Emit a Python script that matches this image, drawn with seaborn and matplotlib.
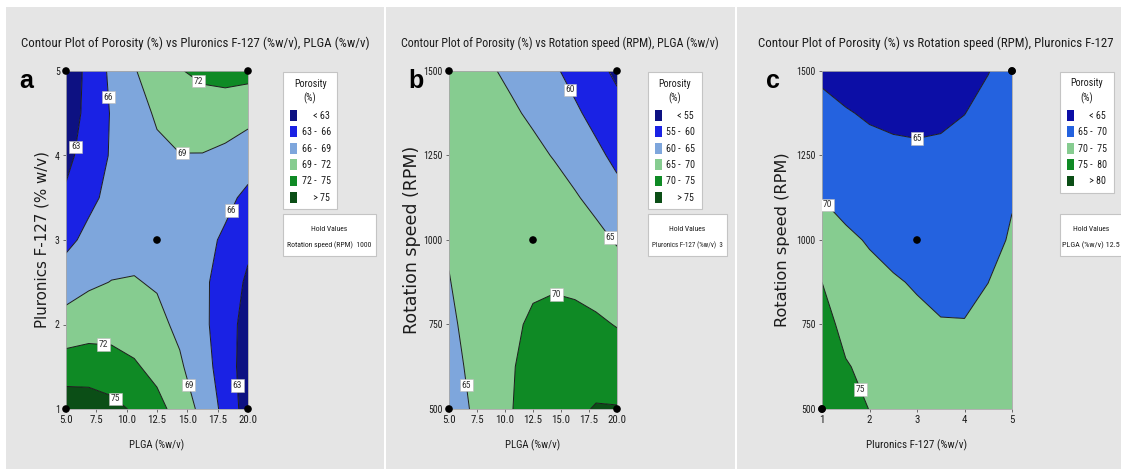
import matplotlib
matplotlib.use("Agg")
import matplotlib.pyplot as plt
from matplotlib import font_manager as fm
from matplotlib.patches import Patch, Rectangle
import numpy as np
import seaborn as sns

# ---------------- data ----------------
# grid positions of the fitted response surfaces
plga_grid = [5.0, 6.875, 8.75, 10.625, 12.5, 14.375, 16.25, 18.125, 20.0]
pluronic_grid = [1.0, 1.5, 2.0, 2.5, 3.0, 3.5, 4.0, 4.5, 5.0]
rpm_grid = [500, 625, 750, 875, 1000, 1125, 1250, 1375, 1500]

# porosity (%) vs PLGA (columns) and Pluronics F-127 (rows); speed held at 1000 RPM
porosity_plga_pluronic = [
    [76.90, 76.61, 75.85, 74.64, 72.95, 70.80, 68.18, 65.10, 61.55],
    [73.34, 73.48, 73.16, 72.36, 71.11, 69.39, 67.20, 64.55, 61.42],
    [70.22, 70.79, 70.90, 70.53, 69.70, 68.41, 66.66, 64.44, 61.74],
    [67.54, 68.54, 69.07, 69.15, 68.75, 67.89, 66.55, 64.76, 62.50],
    [65.30, 66.73, 67.69, 68.19, 68.23, 67.79, 66.89, 65.53, 63.70],
    [63.50, 65.36, 66.75, 67.69, 68.15, 68.15, 67.67, 66.74, 65.34],
    [62.14, 64.44, 66.26, 67.61, 68.50, 68.93, 68.90, 68.39, 67.42],
    [61.22, 63.95, 66.20, 67.99, 69.31, 70.16, 70.56, 70.48, 69.94],
    [60.75, 63.90, 66.58, 68.80, 70.55, 71.84, 72.65, 73.01, 72.90],
]

# porosity (%) vs PLGA (columns) and rotation speed (rows); Pluronics held at 3 %w/v
porosity_plga_rpm = [
    [62.00, 65.08, 67.72, 69.92, 71.68, 73.01, 73.90, 75.40, 75.30],
    [63.11, 65.77, 68.00, 69.79, 71.14, 72.05, 72.53, 72.57, 72.17],
    [64.06, 66.31, 68.12, 69.50, 70.44, 70.94, 71.00, 70.63, 69.82],
    [64.83, 66.67, 68.07, 69.03, 69.56, 69.65, 69.30, 68.51, 67.29],
    [65.44, 66.87, 67.86, 68.41, 68.52, 68.20, 67.44, 66.24, 64.60],
    [65.88, 66.89, 67.47, 67.61, 67.31, 66.57, 65.40, 63.79, 61.74],
    [66.16, 66.76, 66.92, 66.65, 65.94, 64.79, 63.20, 61.18, 58.72],
    [66.26, 66.45, 66.20, 65.51, 64.39, 62.83, 60.83, 58.39, 55.52],
    [66.20, 65.98, 65.32, 64.22, 62.68, 60.71, 58.30, 55.45, 54.70],
]

# porosity (%) vs Pluronics F-127 (columns) and rotation speed (rows); PLGA held at 12.5 %w/v
porosity_pluronic_rpm = [
    [79.20, 77.20, 74.90, 73.90, 73.30, 72.90, 72.80, 73.50, 74.60],
    [78.00, 75.30, 74.00, 73.00, 72.20, 71.60, 71.50, 72.30, 74.20],
    [76.60, 73.80, 72.40, 71.40, 70.80, 70.15, 70.10, 71.20, 73.60],
    [75.00, 73.00, 71.40, 70.35, 69.66, 69.30, 69.40, 69.98, 72.30],
    [72.47, 70.90, 69.60, 68.80, 68.29, 68.00, 68.10, 68.55, 70.50],
    [69.90, 68.40, 67.50, 67.05, 66.92, 66.90, 67.10, 67.60, 69.70],
    [68.03, 66.90, 66.10, 65.70, 65.55, 65.70, 66.20, 67.20, 68.60],
    [66.14, 65.25, 64.60, 64.30, 64.18, 64.35, 64.95, 66.00, 67.40],
    [64.24, 63.50, 63.00, 62.80, 62.80, 63.10, 63.80, 64.90, 66.30],
]

# design points (corners and centre of each factor plane)
design_plga = [5.0, 20.0, 5.0, 20.0, 12.5]
design_pluronic = [1, 1, 5, 5, 3]
design_rpm = [500, 500, 1500, 1500, 1000]

# contour bands
bands_a = [0, 63, 66, 69, 72, 75, 100]
bands_b = [0, 55, 60, 65, 70, 75, 100]
bands_c = [0, 65, 70, 75, 80, 100]
legend_a = ["     < 63", "63 -  66", "66 -  69", "69 -  72", "72 -  75", "     > 75"]
legend_b = ["     < 55", "55 -  60", "60 -  65", "65 -  70", "70 -  75", "     > 75"]
legend_c = ["     < 65", "65 -  70", "70 -  75", "75 -  80", "     > 80"]

# ---------------- style ----------------
sns.set_theme(style="white")


def first_available(names):
    for name in names:
        try:
            fm.findfont(fm.FontProperties(family=name), fallback_to_default=False)
            return name
        except ValueError:
            continue
    return "DejaVu Sans"


NARROW = first_available(["Liberation Sans Narrow", "Arial Narrow", "Roboto Condensed",
                          "Open Sans Condensed", "Liberation Sans"])
plt.rcParams["font.family"] = [NARROW, "DejaVu Sans"]
plt.rcParams["axes.unicode_minus"] = False

TEXT = "#1c1c1c"
PANEL_BG = "#e5e5e5"
NAVY, BLUE, STEEL = "#0d1182", "#1a22e4", "#7ea6dc"
LGREEN, GREEN, DGREEN = "#86cc90", "#0f8a25", "#0b4e16"
NAVY_C, ROYAL_C = "#0c0ea6", "#2462df"

palette_ab = [NAVY, BLUE, STEEL, LGREEN, GREEN, DGREEN]
palette_c = [NAVY_C, ROYAL_C, LGREEN, GREEN, DGREEN]

W, H = 1121, 469
fig = plt.figure(figsize=(W / 100, H / 100), dpi=100, facecolor="white")


def fx(x):
    return x / W


def fy(y):
    return 1 - y / H


def px_box(x0, y0, x1, y1):
    return [fx(x0), fy(y1), (x1 - x0) / W, (y1 - y0) / H]


# grey panel backgrounds
for x0, x1 in [(6, 384), (386, 735), (737, W + 2)]:
    fig.add_artist(Rectangle((fx(x0), 0), (x1 - x0) / W, fy(7), transform=fig.transFigure,
                             facecolor=PANEL_BG, edgecolor="none", zorder=-10))

renderer = fig.canvas.get_renderer()


def fit_length(text, length_px):
    bb = text.get_window_extent(renderer)
    size = max(bb.width, bb.height)
    text.set_fontsize(text.get_fontsize() * length_px / size)


def draw_panel(box, xs, ys, zs, bands, colors, spots, xticks, xticklabels, yticks,
               xlabel, ylabel, xlabel_len, ylabel_len, ylabel_x, dx, dy):
    ax = fig.add_axes(px_box(*box))
    X, Y = np.meshgrid(xs, ys)
    Z = np.array(zs)
    ax.contourf(X, Y, Z, levels=bands, colors=colors, antialiased=True)
    lines = ax.contour(X, Y, Z, levels=bands[1:-1], colors=TEXT, linewidths=0.7)
    labels = ax.clabel(lines, manual=spots, inline=False, fontsize=6.8, fmt="%d", colors="#333333")
    for t in labels:
        t.set_rotation(0)
        t.set_bbox(dict(boxstyle="square,pad=0.18", fc="white", ec="#b8b8b8", lw=0.4))
        t.set_zorder(6)
    sns.scatterplot(x=dx, y=dy, ax=ax, color="black", s=30, edgecolor="none",
                    zorder=7, clip_on=False, legend=False)
    ax.set_xlim(min(xs), max(xs))
    ax.set_ylim(min(ys), max(ys))
    ax.set_xticks(xticks)
    ax.set_xticklabels(xticklabels)
    ax.set_yticks(yticks)
    ax.set_yticklabels([str(v) for v in yticks])
    ax.tick_params(axis="both", which="major", direction="out", length=2.5, width=0.6,
                   colors="#555555", labelcolor=TEXT, pad=2, bottom=True, left=True)
    ax.tick_params(axis="x", labelsize=7.8)
    ax.tick_params(axis="y", labelsize=7.0)
    for s in ax.spines.values():
        s.set_color("#a8a8a8")
        s.set_linewidth(0.6)
    ax.set_xlabel(xlabel, color=TEXT, fontsize=9)
    ax.set_ylabel(ylabel, color=TEXT, fontsize=10, family=["DejaVu Sans"])
    ax.xaxis.set_label_coords(0.5, -0.09)
    ax.yaxis.set_label_coords(ylabel_x, 0.5)
    fit_length(ax.xaxis.label, xlabel_len)
    fit_length(ax.yaxis.label, ylabel_len)
    return ax


def draw_key(left, colors, labels, hold_right, hold_lines, hold_cx, hold_widths):
    handles = [Patch(facecolor=c, edgecolor="none") for c in colors]
    leg = fig.legend(handles, labels, loc="upper left", bbox_to_anchor=(fx(left), fy(72)),
                     bbox_transform=fig.transFigure, borderaxespad=0, title="Porosity\n(%)",
                     fontsize=7.2, title_fontsize=7.2, frameon=True, fancybox=False,
                     edgecolor="#c4c4c4", facecolor="white", framealpha=1,
                     handlelength=0.7, handleheight=1.3, handletextpad=0.5,
                     labelspacing=0.55, borderpad=0.65)
    leg.get_frame().set_linewidth(0.8)
    for t in leg.get_texts():
        t.set_color(TEXT)
    title = leg.get_title()
    title.set_color(TEXT)
    title.set_multialignment("center")
    title.set_linespacing(1.5)
    fig.add_artist(Rectangle((fx(left), fy(256)), (hold_right - left) / W, 42 / H,
                             transform=fig.transFigure, facecolor="white",
                             edgecolor="#c4c4c4", linewidth=0.8))
    for line, y, width in zip(hold_lines, (229, 245), hold_widths):
        t = fig.text(fx(hold_cx), fy(y), line, ha="center", va="center",
                     fontsize=6.5, color=TEXT)
        fit_length(t, width)


plga_ticks = [5.0, 7.5, 10.0, 12.5, 15.0, 17.5, 20.0]
plga_ticklabels = ["5.0", "7.5", "10.0", "12.5", "15.0", "17.5", "20.0"]
rpm_ticks = [500, 750, 1000, 1250, 1500]

# label placements on the contour lines
spots_a = [(8.4, 4.69), (5.4, 4.11), (15.8, 4.86), (14.6, 3.96), (18.8, 3.34),
           (8.1, 1.76), (9.2, 1.14), (15.05, 1.28), (19.3, 1.28)]
spots_b = [(15.6, 1441), (19.1, 1000), (14.6, 840), (6.7, 571)]
spots_c = [(1.22, 1118), (3.0, 1296), (1.84, 559)]

# panel a
draw_panel((66, 71, 248, 409), plga_grid, pluronic_grid, porosity_plga_pluronic, bands_a,
           palette_ab, spots_a, plga_ticks, plga_ticklabels, [1, 2, 3, 4, 5],
           "PLGA (%w/v)", "Pluronics F-127 (% w/v)", 55, 177, -0.09,
           design_plga, design_pluronic)
draw_key(283, palette_ab, legend_a, 376, ["Hold Values", "Rotation speed (RPM)  1000"],
         329.5, (36, 84))

# panel b
draw_panel((449, 71, 617, 409), plga_grid, rpm_grid, porosity_plga_rpm, bands_b,
           palette_ab, spots_b, plga_ticks, plga_ticklabels, rpm_ticks,
           "PLGA (%w/v)", "Rotation speed (RPM)", 55, 188, -0.165,
           design_plga, design_rpm)
draw_key(648, palette_ab, legend_b, 727, ["Hold Values", "Pluronics F-127 (%w/v)  3"],
         687.5, (36, 70))

# panel c
draw_panel((822, 71, 1012, 409), pluronic_grid, rpm_grid, porosity_pluronic_rpm, bands_c,
           palette_c, spots_c, [1, 2, 3, 4, 5], ["1", "2", "3", "4", "5"], rpm_ticks,
           "Pluronics F-127 (%w/v)", "Rotation speed (RPM)", 101, 175, -0.17,
           design_pluronic, design_rpm)
draw_key(1060, palette_c, legend_c, 1135, ["Hold Values", "PLGA (%w/v) 12.5"],
         1091, (36, 58))

# panel titles
titles = [
    ("Contour Plot of Porosity (%) vs Pluronics F-127 (%w/v), PLGA (%w/v)", 195, "center", 346),
    ("Contour Plot of Porosity (%) vs Rotation speed (RPM), PLGA (%w/v)", 560, "center", 318),
    ("Contour Plot of Porosity (%) vs Rotation speed (RPM), Pluronics F-127", 758, "left", 355),
]
for text, x, ha, width in titles:
    t = fig.text(fx(x), fy(47), text, ha=ha, va="baseline", fontsize=12, color=TEXT)
    fit_length(t, width)

# panel letters
for letter, x in [("a", 19), ("b", 408), ("c", 766)]:
    fig.text(fx(x), fy(88), letter, ha="left", va="baseline", fontsize=18,
             fontweight="bold", color="black", family=["Liberation Sans", "DejaVu Sans"])

fig.savefig("out.png", dpi=100, facecolor=fig.get_facecolor())
